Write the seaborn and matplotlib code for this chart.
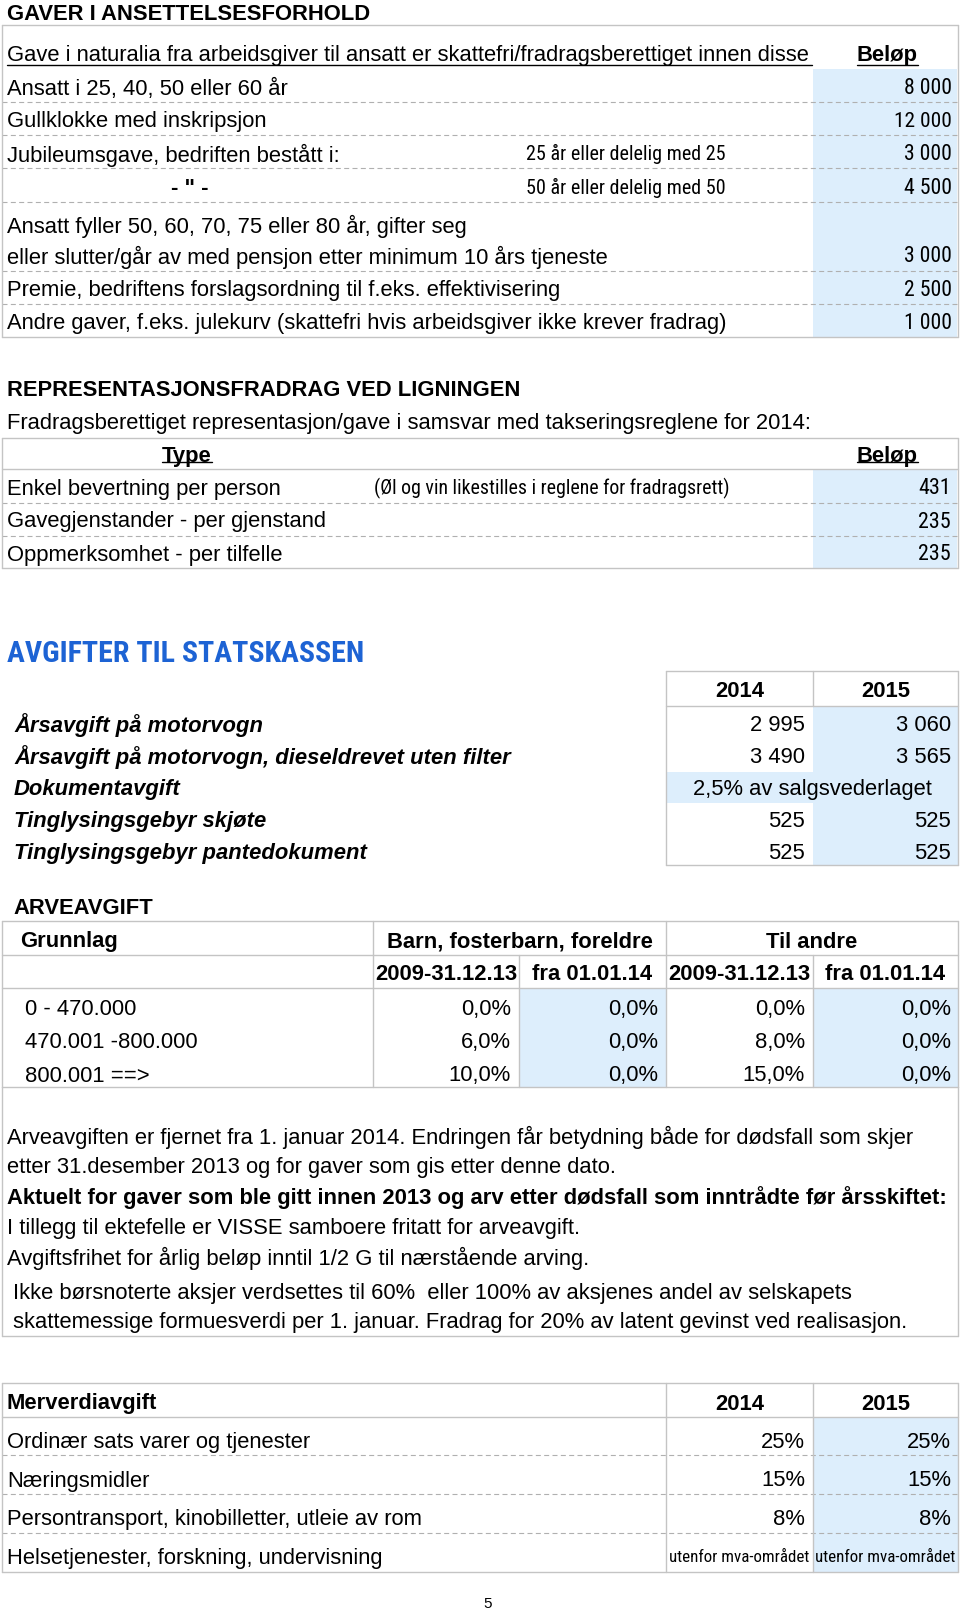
import math
import os

import matplotlib
matplotlib.use("Agg")

import matplotlib.pyplot as plt
from matplotlib import font_manager
from matplotlib.font_manager import FontProperties
from matplotlib.patches import Rectangle
import seaborn as sns


# ---- data ----
GIFT_HEADER = "Gave i naturalia fra arbeidsgiver til ansatt er skattefri/fradragsberettiget innen disse "
GIFT_LABELS = [
    "Ansatt i 25, 40, 50 eller 60 år",
    "Gullklokke med inskripsjon",
    "Jubileumsgave, bedriften bestått i:",
    '- " -',
    "Ansatt fyller 50, 60, 70, 75 eller 80 år, gifter seg\neller slutter/går av med pensjon etter minimum 10 års tjeneste",
    "Premie, bedriftens forslagsordning til f.eks. effektivisering",
    "Andre gaver, f.eks. julekurv (skattefri hvis arbeidsgiver ikke krever fradrag)",
]
GIFT_NOTES = ["", "", "25 år eller delelig med 25", "50 år eller delelig med 50", "", "", ""]
GIFT_AMOUNTS = [8000, 12000, 3000, 4500, 3000, 2500, 1000]

REP_INTRO = "Fradragsberettiget representasjon/gave i samsvar med takseringsreglene for 2014:"
REP_TYPES = ["Enkel bevertning per person", "Gavegjenstander - per gjenstand", "Oppmerksomhet - per tilfelle"]
REP_NOTES = ["(Øl og vin likestilles i reglene for fradragsrett)", "", ""]
REP_AMOUNTS = [431, 235, 235]

FEE_YEARS = ["2014", "2015"]
FEE_LABELS = [
    "Årsavgift på motorvogn",
    "Årsavgift på motorvogn, dieseldrevet uten filter",
    "Dokumentavgift",
    "Tinglysingsgebyr skjøte",
    "Tinglysingsgebyr pantedokument",
]
FEE_2014 = [2995, 3490, None, 525, 525]
FEE_2015 = [3060, 3565, None, 525, 525]
DOC_FEE_TEXT = "2,5% av salgsvederlaget"

ARVE_GROUPS = ["Barn, fosterbarn, foreldre", "Til andre"]
ARVE_PERIODS = ["2009-31.12.13", "fra 01.01.14", "2009-31.12.13", "fra 01.01.14"]
ARVE_BRACKETS = ["0 - 470.000", "470.001 -800.000", "800.001 ==>"]
ARVE_RATES = [
    [0.0, 0.0, 0.0, 0.0],
    [6.0, 0.0, 8.0, 0.0],
    [10.0, 0.0, 15.0, 0.0],
]

NOTES = [
    ("Arveavgiften er fjernet fra 1. januar 2014. Endringen får betydning både for dødsfall som skjer", "normal"),
    ("etter 31.desember 2013 og for gaver som gis etter denne dato.", "normal"),
    ("Aktuelt for gaver som ble gitt innen 2013 og arv etter dødsfall som inntrådte før årsskiftet:", "bold"),
    ("I tillegg til ektefelle er VISSE samboere fritatt for arveavgift.", "normal"),
    ("Avgiftsfrihet for årlig beløp inntil 1/2 G til nærstående arving.", "normal"),
    ("Ikke børsnoterte aksjer verdsettes til 60%  eller 100% av aksjenes andel av selskapets", "normal"),
    ("skattemessige formuesverdi per 1. januar. Fradrag for 20% av latent gevinst ved realisasjon.", "normal"),
]

MVA_LABELS = [
    "Ordinær sats varer og tjenester",
    "Næringsmidler",
    "Persontransport, kinobilletter, utleie av rom",
    "Helsetjenester, forskning, undervisning",
]
MVA_2014 = [25, 15, 8, None]
MVA_2015 = [25, 15, 8, None]
MVA_OUTSIDE = "utenfor mva-området"

# ---- styling ----
BLUE_CELL = "#ddeefc"
TITLE_BLUE = "#1d63d4"
GRID = "#c4c4c4"
DASH = "#b0b0b0"
BASE = 15.8

sns.set_theme(style="white")
plt.rcParams["font.family"] = ["Liberation Sans", "DejaVu Sans"]

SANS_CORES = {"liberation sans", "noto sans", "dejavu sans", "open sans", "roboto", "lato", "inter"}
WIDTH_TOKENS = ["extracondensed", "extra condensed", "semicondensed", "semi condensed",
                "ultracondensed", "ultra condensed", "condensed", "narrow",
                "semibold", "extrabold", "medium", "light", "black", "bold"]


def _weight(w):
    if isinstance(w, str):
        return font_manager.weight_dict.get(w, 400)
    return int(w)


def condensed_files(bold=False):
    out = []
    for f in font_manager.fontManager.ttflist:
        base = os.path.basename(f.fname).lower()
        name = f.name.lower()
        if "mono" in name or "mono" in base or f.style != "normal":
            continue
        cond = ("narrow" in name or "narrow" in base or "condensed" in name
                or "condensed" in base or f.stretch == "condensed")
        if not cond:
            continue
        core = name
        for tok in WIDTH_TOKENS:
            core = core.replace(tok, "")
        if " ".join(core.split()) not in SANS_CORES:
            continue
        wt = _weight(f.weight)
        if (wt >= 600) != bold or wt < 350 or wt > 800:
            continue
        if f.fname not in out:
            out.append(f.fname)
    return out


def fmt_int(v):
    return f"{v:,}".replace(",", " ")


def fmt_pct(v):
    return f"{v:.1f}%".replace(".", ",")


def txt(ax, x, y, s, ha="left", size=BASE, **kw):
    kw.setdefault("fontsize", size)
    return ax.text(x, y, s, ha=ha, va="center_baseline", color="black", **kw)


def width_px(ax, t):
    return t.get_window_extent(ax.figure.canvas.get_renderer()).width


def hline(ax, y, x0=1.5, x1=958, dashed=False):
    if dashed:
        ax.plot([x0, x1], [y, y], color=DASH, lw=0.8, linestyle=(0, (4.5, 3)))
    else:
        ax.plot([x0, x1], [y, y], color=GRID, lw=1.0)


def vline(ax, x, y0, y1):
    ax.plot([x, x], [y0, y1], color=GRID, lw=1.0)


def blue(ax, x0, x1, y0, y1):
    ax.add_patch(Rectangle((x0, y0), x1 - x0, y1 - y0, facecolor=BLUE_CELL, edgecolor="none", zorder=0))


def underline(ax, t, y, x1=None):
    bb = t.get_window_extent(ax.figure.canvas.get_renderer())
    inv = ax.transData.inverted()
    (xa, _), (xb, _) = inv.transform([(bb.x0, bb.y0), (bb.x1, bb.y0)])
    ax.plot([xa, x1 if x1 is not None else xb], [y, y], color="black", lw=1.0)


fig = plt.figure(figsize=(9.6, 16.11), dpi=100)
ax = fig.add_axes([0, 0, 1, 1])
ax.set_xlim(0, 960)
ax.set_ylim(1611, 0)
ax.axis("off")


def pick_condensed(bold, sample, target_px, size):
    # choose the installed narrow sans face whose natural width is closest to the page
    best, best_err = None, None
    for path in condensed_files(bold):
        try:
            t = ax.text(0, 0, sample, fontproperties=FontProperties(fname=path, size=size))
            w = width_px(ax, t)
            t.remove()
        except Exception:
            continue
        if w <= 0:
            continue
        err = abs(math.log(target_px / w))
        if best_err is None or err < best_err:
            best, best_err = path, err
    return best


COND_REGULAR = pick_condensed(False, "25 år eller delelig med 25", 201, BASE)
COND_BOLD = pick_condensed(True, "AVGIFTER TIL STATSKASSEN", 358, 21.5)


def cond_props(size, bold=False):
    path = COND_BOLD if bold else COND_REGULAR
    if path:
        return FontProperties(fname=path, size=size)
    return FontProperties(family=["Liberation Sans", "DejaVu Sans"], size=size,
                          weight="bold" if bold else "normal")


def cond_txt(ax, x, y, s, fit_px, maxsize=BASE, bold=False, ha="left", color="black"):
    # condensed text, sized to the width it has on the page
    t = ax.text(x, y, s, ha=ha, va="center_baseline", color=color, fontproperties=cond_props(maxsize, bold))
    w = width_px(ax, t)
    size = min(maxsize * fit_px / w, maxsize * 1.04)
    t.set_fontproperties(cond_props(size, bold))
    return t


# ================= Gaver i ansettelsesforhold =================
txt(ax, 7, 11.5, "GAVER I ANSETTELSESFORHOLD", fontweight="bold")
blue(ax, 813, 957, 69, 337)
t = txt(ax, 7, 53.5, GIFT_HEADER)
underline(ax, t, 65, x1=812)
t = txt(ax, 887, 53.5, "Beløp", ha="center", fontweight="bold")
underline(ax, t, 65)

gift_rows = [86.5, 119.5, 152.5, 185.5, 223.5, 288, 321]
for i, (lab, note, amt) in enumerate(zip(GIFT_LABELS, GIFT_NOTES, GIFT_AMOUNTS)):
    y = gift_rows[i]
    if "\n" in lab:
        l1, l2 = lab.split("\n")
        txt(ax, 7, y, l1)
        y = y + 31
        txt(ax, 7, y, l2)
    elif lab.startswith("-"):
        txt(ax, 190, y, lab, ha="center", fontweight="bold")
    else:
        txt(ax, 7, y, lab)
    if note:
        cond_txt(ax, 526, y, note, fit_px=201)
    cond_txt(ax, 952, y, fmt_int(amt), fit_px=58 if amt >= 10000 else 48, ha="right")

for y in [102, 135, 168, 202, 271, 304]:
    hline(ax, y, dashed=True)
hline(ax, 25)
hline(ax, 337)
vline(ax, 1.5, 25, 337)
vline(ax, 958, 25, 337)

# ================= Representasjon =================
txt(ax, 7, 387.5, "REPRESENTASJONSFRADRAG VED LIGNINGEN", fontweight="bold")
txt(ax, 7, 420.5, REP_INTRO)
blue(ax, 813, 957, 469, 568)
t = txt(ax, 187, 454, "Type", ha="center", fontweight="bold")
underline(ax, t, 462)
t = txt(ax, 887, 454, "Beløp", ha="center", fontweight="bold")
underline(ax, t, 462)
for y, lab, note, amt in zip([486.5, 519.5, 552.5], REP_TYPES, REP_NOTES, REP_AMOUNTS):
    txt(ax, 7, y, lab)
    if note:
        cond_txt(ax, 374, y, note, fit_px=358)
    cond_txt(ax, 951, y, str(amt), fit_px=33, ha="right")
hline(ax, 503, dashed=True)
hline(ax, 536, dashed=True)
hline(ax, 438)
hline(ax, 469)
hline(ax, 568)
vline(ax, 1.5, 438, 568)
vline(ax, 958, 438, 568)

# ================= Avgifter til statskassen =================
cond_txt(ax, 7, 651, "AVGIFTER TIL STATSKASSEN", fit_px=358, maxsize=21.5, bold=True, color=TITLE_BLUE)
fee_rows = [723, 755, 787, 819, 851]
blue(ax, 813, 958, 706, 865)
blue(ax, 666, 958, 771.5, 803)
for x, yr in zip([739.5, 885.5], FEE_YEARS):
    txt(ax, x, 689, yr, ha="center", fontweight="bold")
for y, lab, v14, v15 in zip(fee_rows, FEE_LABELS, FEE_2014, FEE_2015):
    txt(ax, 14, y, lab, fontweight="bold", fontstyle="italic")
    if v14 is None:
        txt(ax, 812, y, DOC_FEE_TEXT, ha="center")
        continue
    txt(ax, 805, y, fmt_int(v14), ha="right")
    txt(ax, 951, y, fmt_int(v15), ha="right")
hline(ax, 671, x0=666)
hline(ax, 706, x0=666)
hline(ax, 865, x0=666)
vline(ax, 666, 671, 865)
vline(ax, 813, 671, 706)
vline(ax, 958, 671, 865)

# ================= Arveavgift =================
txt(ax, 13, 906, "ARVEAVGIFT", fontweight="bold")
blue(ax, 519, 666, 988, 1087)
blue(ax, 813, 958, 988, 1087)
txt(ax, 20, 939.5, "Grunnlag", fontweight="bold")
txt(ax, 519.5, 939.5, ARVE_GROUPS[0], ha="center", fontweight="bold")
txt(ax, 812, 939.5, ARVE_GROUPS[1], ha="center", fontweight="bold")
for x, p in zip([446, 592.5, 739.5, 885.5], ARVE_PERIODS):
    txt(ax, x, 972, p, ha="center", fontweight="bold")
for y, br, rates in zip([1007, 1040, 1073.5], ARVE_BRACKETS, ARVE_RATES):
    txt(ax, 25, y, br)
    for xr, r in zip([511, 658, 805, 951], rates):
        txt(ax, xr, y, fmt_pct(r), ha="right")
hline(ax, 921)
hline(ax, 955)
hline(ax, 988)
hline(ax, 1087)
for x in [1.5, 373, 666, 958]:
    vline(ax, x, 921, 1087)
for x in [519, 813]:
    vline(ax, x, 955, 1087)

# notes box
note_rows = [1134.5, 1165, 1195, 1226, 1256, 1290.5, 1320]
for i, (y, (line, w)) in enumerate(zip(note_rows, NOTES)):
    txt(ax, 7 if i < 5 else 13, y, line, fontweight=w)
vline(ax, 1.5, 1087, 1336)
vline(ax, 958, 1087, 1336)
hline(ax, 1336)

# ================= Merverdiavgift =================
blue(ax, 813, 958, 1417, 1572)
txt(ax, 7, 1401.5, "Merverdiavgift", fontweight="bold")
for x, yr in zip([739.5, 885.5], FEE_YEARS):
    txt(ax, x, 1401.5, yr, ha="center", fontweight="bold")
for y, lab, v14, v15 in zip([1440, 1478.5, 1517, 1556], MVA_LABELS, MVA_2014, MVA_2015):
    txt(ax, 7, y, lab)
    if v14 is None:
        for xc in [739.5, 885.5]:
            cond_txt(ax, xc, y, MVA_OUTSIDE, fit_px=140, maxsize=13.5, ha="center")
        continue
    txt(ax, 805, y, f"{v14}%", ha="right")
    txt(ax, 951, y, f"{v15}%", ha="right")
hline(ax, 1383)
hline(ax, 1417)
for y in [1455, 1494, 1533]:
    hline(ax, y, dashed=True)
hline(ax, 1572)
for x in [1.5, 666, 813, 958]:
    vline(ax, x, 1383, 1572)

txt(ax, 488, 1602, "5", ha="center", size=11)

fig.savefig("out.png", dpi=100)
